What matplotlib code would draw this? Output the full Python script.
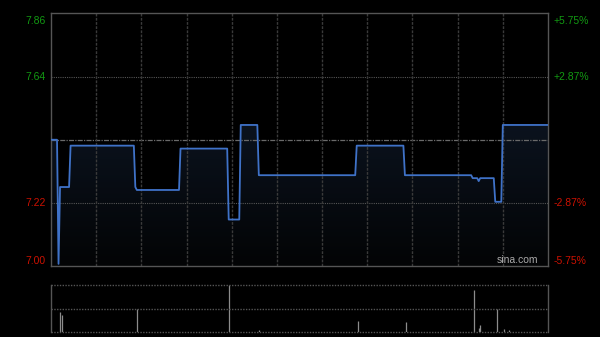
import numpy as np
import matplotlib
matplotlib.use("Agg")
import matplotlib.pyplot as plt
from matplotlib.colors import LinearSegmentedColormap

# intraday price (minute index from 9:30, price) - step levels
minutes = [0, 4, 5, 6, 12, 13, 55, 56, 57, 85, 86, 117, 118, 125, 126, 137, 138, 202,
           203, 234, 235, 279, 280, 283, 284, 285, 294, 295, 299, 300, 330]
prices = [7.43, 7.43, 7.01, 7.27, 7.27, 7.41, 7.41, 7.27, 7.26, 7.26, 7.40, 7.40, 7.16, 7.16,
          7.48, 7.48, 7.31, 7.31, 7.41, 7.41, 7.31, 7.31, 7.30, 7.30, 7.29, 7.30, 7.30,
          7.22, 7.22, 7.48, 7.48]

# volume bars
vol_minutes = [6, 7, 57, 118, 138, 204, 236, 281, 284, 285, 296, 301, 304]
volumes = [43000, 37000, 50000, 100000, 3000, 23000, 21000, 90000, 9000, 14000, 50000, 5000, 4000]

prev_close = 7.43
pct_ticks = [5.75, 2.87, -2.87, -5.75]
total_minutes = 330

fig = plt.figure(figsize=(6, 3.37), dpi=100, facecolor='black')
ax = fig.add_axes([0.085, 0.2107, 0.8283, 0.7493], facecolor='black')
axv = fig.add_axes([0.085, 0.0157, 0.8283, 0.1377], facecolor='black')

lo = prev_close * (1 - 0.0575)
hi = prev_close * (1 + 0.0575)
ax.set_xlim(0, total_minutes)
ax.set_ylim(lo, hi)

# gradient fill under the line
cmap = LinearSegmentedColormap.from_list('fade', ['#030405', '#111e32'])
grad = np.linspace(0, 1, 256).reshape(-1, 1)
im = ax.imshow(grad, cmap=cmap, aspect='auto', origin='lower',
               extent=[0, total_minutes, lo, hi], zorder=1)
poly = ax.fill_between(minutes, prices, lo, color='none', lw=0)
path = poly.get_paths()[0]
im.set_clip_path(path, transform=ax.transData)

ax.plot(minutes, prices, color='#3f72c8', lw=1.3, zorder=3)

# grid
for p in [2.87, -2.87]:
    ax.axhline(prev_close * (1 + p / 100), color='#555555', lw=0.8, ls=(0, (1, 1)), zorder=2)
ax.axhline(prev_close, color='#6a6a6a', lw=0.9, ls=(0, (4, 1, 1, 1)), zorder=2)
for m in range(30, total_minutes, 30):
    ax.axvline(m, color='#3a3a3a', lw=1.0, ls=(0, (2, 1)), zorder=2)

ax.set_xticks([])
ax.set_yticks([])
for s in ax.spines.values():
    s.set_color('#555555')
    s.set_linewidth(1.0)

# axis labels
for p in pct_ticks:
    val = prev_close * (1 + p / 100)
    col = '#129912' if p > 0 else '#cc1100'
    if p == max(pct_ticks):
        va, off = 'top', -2
    elif p == min(pct_ticks):
        va, off = 'bottom', 0
    else:
        va, off = 'center', 0
    ax.annotate('%.2f' % val, xy=(0, val), xycoords=('axes fraction', 'data'),
                xytext=(-4, off), textcoords='offset points', ha='right', va=va,
                color=col, fontsize=7.5, family='Liberation Sans')
    ax.annotate('%+.2f%%' % p, xy=(1, val), xycoords=('axes fraction', 'data'),
                xytext=(4, off), textcoords='offset points', ha='left', va=va,
                color=col, fontsize=7.5, family='Liberation Sans')

ax.text(0.98, 0.005, 'sina.com', transform=ax.transAxes, ha='right', va='bottom',
        color='#aaaaaa', fontsize=7.5, family='Liberation Sans')

# volume pane
vmax = max(volumes)
axv.set_xlim(0, total_minutes)
axv.set_ylim(0, vmax)
axv.vlines(vol_minutes, 0, volumes, color='#8c8c8c', lw=0.9)
for f in [0, 0.5, 1.0]:
    axv.axhline(vmax * f, color='#555555', lw=1.0, ls=(0, (1, 1)), clip_on=False)
axv.set_xticks([])
axv.set_yticks([])
axv.spines['top'].set_visible(False)
axv.spines['bottom'].set_visible(False)
for s in ['left', 'right']:
    axv.spines[s].set_color('#555555')
    axv.spines[s].set_linewidth(1.0)

fig.savefig('out.png', dpi=100, facecolor='black')
